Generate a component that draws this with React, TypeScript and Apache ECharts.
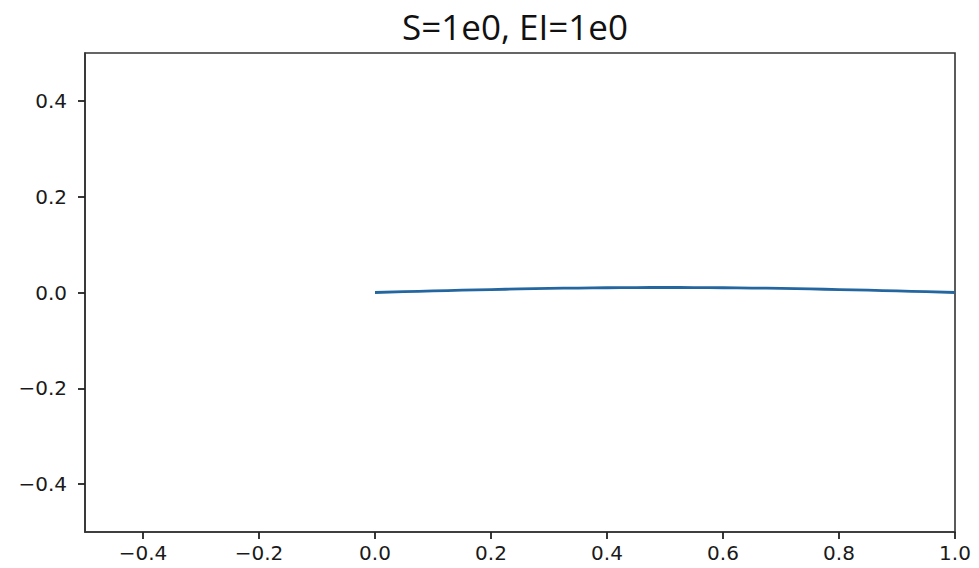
import React, { useEffect, useRef } from "react";
import * as echarts from "echarts";

const titleText = "S=1e0, EI=1e0";
const xValues = [0, 0.05, 0.1, 0.15, 0.2, 0.25, 0.3, 0.35, 0.4, 0.45, 0.5, 0.55, 0.6, 0.65, 0.7, 0.75, 0.8, 0.85, 0.9, 0.95, 1.0];
const yValues = [0, 0.0017, 0.0033, 0.0048, 0.0062, 0.0074, 0.0085, 0.0093, 0.0099, 0.0103, 0.0104, 0.0103, 0.0099, 0.0093, 0.0085, 0.0074, 0.0062, 0.0048, 0.0033, 0.0017, 0];
const xTicks = [-0.4, -0.2, 0.0, 0.2, 0.4, 0.6, 0.8, 1.0];
const yTicks = [-0.4, -0.2, 0.0, 0.2, 0.4];

const fmt = (v: number) => {
  const s = Math.abs(v).toFixed(1);
  return v < -1e-9 ? "\u2212" + s : s;
};

export default function App() {
  const ref = useRef<HTMLDivElement>(null);
  useEffect(() => {
    if (!ref.current) return;
    const chart = echarts.init(ref.current, null, { renderer: "svg" });
    const axisLabelStyle = {
      fontFamily: "'DejaVu Sans', Verdana, sans-serif",
      fontSize: 20,
      color: "#1a1a1a",
    };
    chart.setOption({
      animation: false,
      backgroundColor: "#ffffff",
      title: {
        text: titleText,
        left: 510,
        textAlign: "center",
        top: 4,
        textStyle: {
          fontFamily: "'Open Sans', sans-serif",
          fontWeight: "normal",
          fontSize: 35,
          color: "#111",
        },
      },
      grid: {
        left: 85,
        right: 24,
        top: 53,
        bottom: 36,
        show: true,
        borderColor: "#333",
        borderWidth: 1.6,
        backgroundColor: "transparent",
      },
      xAxis: {
        type: "value",
        min: -0.5,
        max: 1.0,
        axisLine: { show: true, onZero: false, lineStyle: { color: "#333", width: 1.6 } },
        axisTick: { show: true, inside: false, length: 7, customValues: xTicks, lineStyle: { color: "#222", width: 1.8 } },
        axisLabel: { ...axisLabelStyle, margin: 11, customValues: xTicks, formatter: (v: number) => fmt(v) },
        splitLine: { show: false },
      },
      yAxis: {
        type: "value",
        min: -0.5,
        max: 0.5,
        axisLine: { show: true, onZero: false, lineStyle: { color: "#333", width: 1.6 } },
        axisTick: { show: true, inside: false, length: 7, customValues: yTicks, lineStyle: { color: "#222", width: 1.8 } },
        axisLabel: { ...axisLabelStyle, margin: 18, customValues: yTicks, formatter: (v: number) => fmt(v) },
        splitLine: { show: false },
      },
      series: [
        {
          type: "line",
          data: xValues.map((x, i) => [x, yValues[i]]),
          showSymbol: false,
          smooth: true,
          lineStyle: { color: "#2466a0", width: 2.8 },
          itemStyle: { color: "#2466a0" },
        },
      ],
    });
    return () => chart.dispose();
  }, []);
  return (
    <div
      ref={ref}
      style={{ position: "fixed", left: 0, top: 0, width: 979, height: 568, background: "#fff" }}
    />
  );
}
